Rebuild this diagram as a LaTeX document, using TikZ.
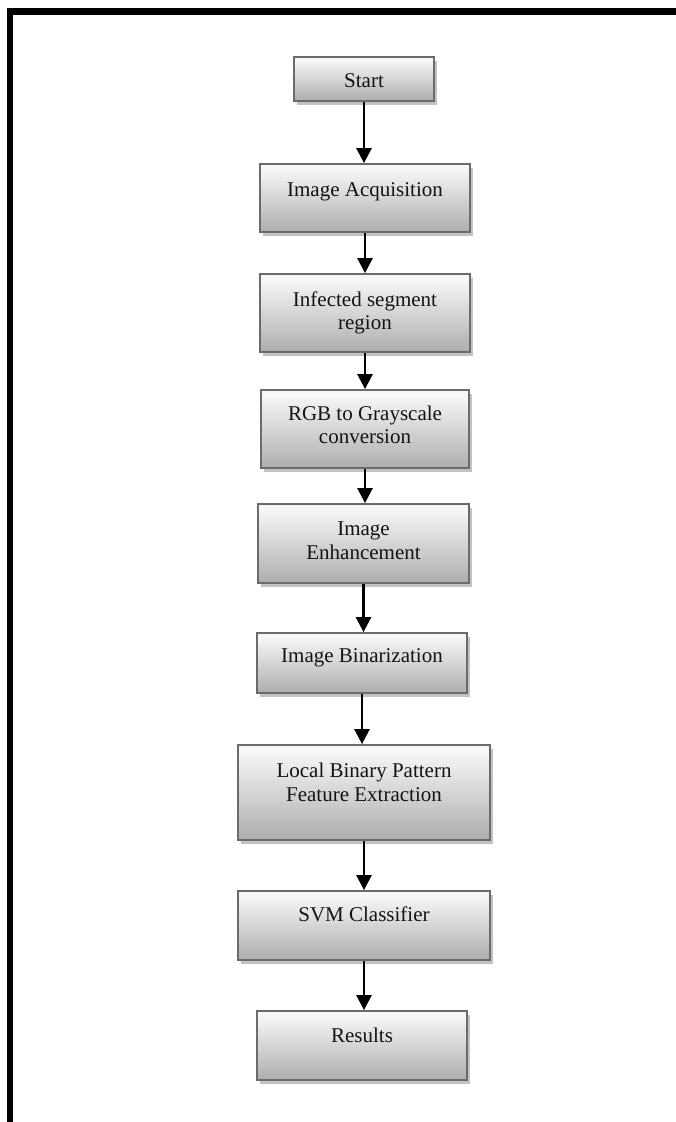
\documentclass[tikz,border=0pt]{standalone}
\usepackage{fontspec}
\setmainfont{Liberation Serif}
\usetikzlibrary{arrows.meta,calc}
\pgfdeclareverticalshading{boxshade}{100bp}{color(0bp)=(gray!82); color(25bp)=(gray!64); color(72bp)=(gray!6); color(88bp)=(gray!6); color(100bp)=(gray!22)}
\tikzset{
  flowbox/.style={draw=black!58, line width=1.8pt, shading=boxshade, inner sep=0pt},
  boxshadow/.style={fill=black!24, draw=none},
  txt/.style={font=\fontsize{21}{23.5}\selectfont, align=center, text=black!92, inner sep=0pt},
  arr/.style={line width=2.6pt, -{Triangle[width=15pt,length=15pt]}},
  frame/.style={line width=6.5pt, line join=miter}
}
\newcommand{\fbx}[7]{% name, cx, cy, w, h, text shift, text
  \fill[boxshadow] ($(#2,#3)+(-#4/2+3,-#5/2+4)$) rectangle ($(#2,#3)+(#4/2+3,#5/2+4)$);
  \node[flowbox, minimum width=#4pt, minimum height=#5pt] (#1) at (#2,#3) {};
  \node[txt] (#1t) at ([yshift=#6pt]#1.center) {#7};
}
\begin{document}
\begin{tikzpicture}[x=1pt,y=-1pt]
\useasboundingbox (0,0) rectangle (675,1122);
\fill[white] (0,0) rectangle (675,1122);
\draw[frame] (10,1125) -- (10,11.3) -- (678,11.3);

\fbx{b1}{364}{79}{140}{44}{-1.5}{Start}
\fbx{b2}{365}{198}{210}{68}{6.5}{Image Acquisition}
\fbx{b3}{365}{313}{210}{78}{0}{Infected segment\\region}
\fbx{b4}{365}{429}{208}{78}{4}{RGB to Grayscale\\conversion}
\fbx{b5}{363.5}{543.5}{211}{79}{3}{Image\\Enhancement}
\fbx{b6}{362}{663}{210}{60}{5}{Image Binarization}
\fbx{b7}{364}{792.5}{252}{95}{10}{Local Binary Pattern\\Feature Extraction}
\fbx{b8}{364}{925.5}{252}{69}{11}{SVM Classifier}
\fbx{b9}{362}{1045.5}{210}{69}{10}{Results}

\draw[arr] (b1.south) -- (b1.south |- b2.north);
\draw[arr] (b2.south) -- (b2.south |- b3.north);
\draw[arr] (b3.south) -- (b3.south |- b4.north);
\draw[arr] (b4.south) -- (b4.south |- b5.north);
\draw[arr] (b5.south) -- (b5.south |- b6.north);
\draw[arr] (b6.south) -- (b6.south |- b7.north);
\draw[arr] (b7.south) -- (b7.south |- b8.north);
\draw[arr] (b8.south) -- (b8.south |- b9.north);
\end{tikzpicture}
\end{document}
